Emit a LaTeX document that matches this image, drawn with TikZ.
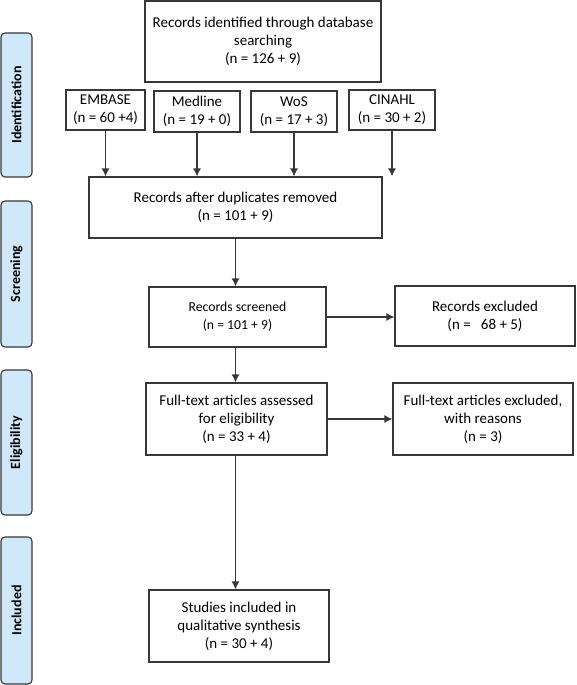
\documentclass[tikz,border=0pt]{standalone}
\usepackage{fontspec}
\setmainfont{Carlito}
\usetikzlibrary{arrows.meta}
\definecolor{sideblue}{RGB}{207,233,251}
\definecolor{edgegray}{RGB}{55,55,55}

\begin{document}
\begin{tikzpicture}[x=1pt,y=1pt,
	box/.style={draw=edgegray,line width=1.1pt,align=center,inner sep=0pt,
		font=\fontsize{15}{18}\selectfont},
	phase/.style={draw=edgegray,line width=1.1pt,fill=sideblue,rounded corners=4pt,
		minimum height=31pt,inner sep=0pt,rotate=90,
		font=\fontsize{14}{16}\selectfont\bfseries},
	flow/.style={-{Latex[length=8pt,width=8pt]},line width=1.3pt,draw=edgegray}]
	\useasboundingbox (0,0) rectangle (576,-685);
	% phases on the left
	\node[phase,minimum width=144pt] (idl) at (16.5,-105) {Identification};
	\node[phase,minimum width=146pt] (scl) at (16.5,-274) {Screening};
	\node[phase,minimum width=145pt] (ell) at (16.5,-442.5) {Eligibility};
	\node[phase,minimum width=147pt] (inl) at (16.5,-610.5) {Included};
	% identification
	\node[box,minimum width=236pt,minimum height=81pt] (ident) at (263,-41.5)
		{Records identified through database\\searching\\(n = 126 + 9)};
	\node[box,minimum width=79pt,minimum height=40pt] (embase) at (105.5,-110) {EMBASE\\(n = 60 +4)};
	\node[box,minimum width=86pt,minimum height=41pt] (medline) at (197,-111.5) {Medline\\(n = 19 + 0)};
	\node[box,minimum width=86pt,minimum height=41pt] (wos) at (294,-111.5) {WoS\\(n = 17 + 3)};
	\node[box,minimum width=86pt,minimum height=40pt] (cinahl) at (392,-110) {CINAHL\\(n = 30 + 2)};
	% screening
	\node[box,minimum width=293pt,minimum height=61pt] (dup) at (235.5,-207.5)
		{Records after duplicates removed\\(n = 101 + 9)};
	\node[box,minimum width=177pt,minimum height=60pt,font=\fontsize{13.7}{18}\selectfont] (scr) at (237.5,-317)
		{Records screened\\(n = 101 + 9)};
	\node[box,minimum width=180pt,minimum height=60pt] (excl) at (485,-316)
		{Records excluded\\(n = \ \ 68 + 5)};
	% eligibility
	\node[box,minimum width=181pt,minimum height=72pt] (full) at (236.5,-419)
		{Full-text articles assessed\\for eligibility\\(n = 33 + 4)};
	\node[box,minimum width=180pt,minimum height=72pt] (reas) at (483,-419)
		{Full-text articles excluded,\\with reasons\\(n = 3)};
	% included
	\node[box,minimum width=180pt,minimum height=72pt] (incl) at (239,-626)
		{Studies included in\\qualitative synthesis\\(n = 30 + 4)};
	% arrows
	\draw[flow] (embase.south) -- (embase.south |- dup.north);
	\draw[flow] (medline.south) -- (medline.south |- dup.north);
	\draw[flow] (wos.south) -- (wos.south |- dup.north);
	\draw[flow] (cinahl.south) -- (cinahl.south |- dup.north);
	\draw[flow] (dup.south) -- (dup.south |- scr.north);
	\draw[flow] (scr.east) -- (scr.east -| excl.west);
	\draw[flow] (dup.south |- scr.south) -- (dup.south |- full.north);
	\draw[flow] (full.east) -- (full.east -| reas.west);
	\draw[flow] (dup.south |- full.south) -- (dup.south |- incl.north);
\end{tikzpicture}
\end{document}
